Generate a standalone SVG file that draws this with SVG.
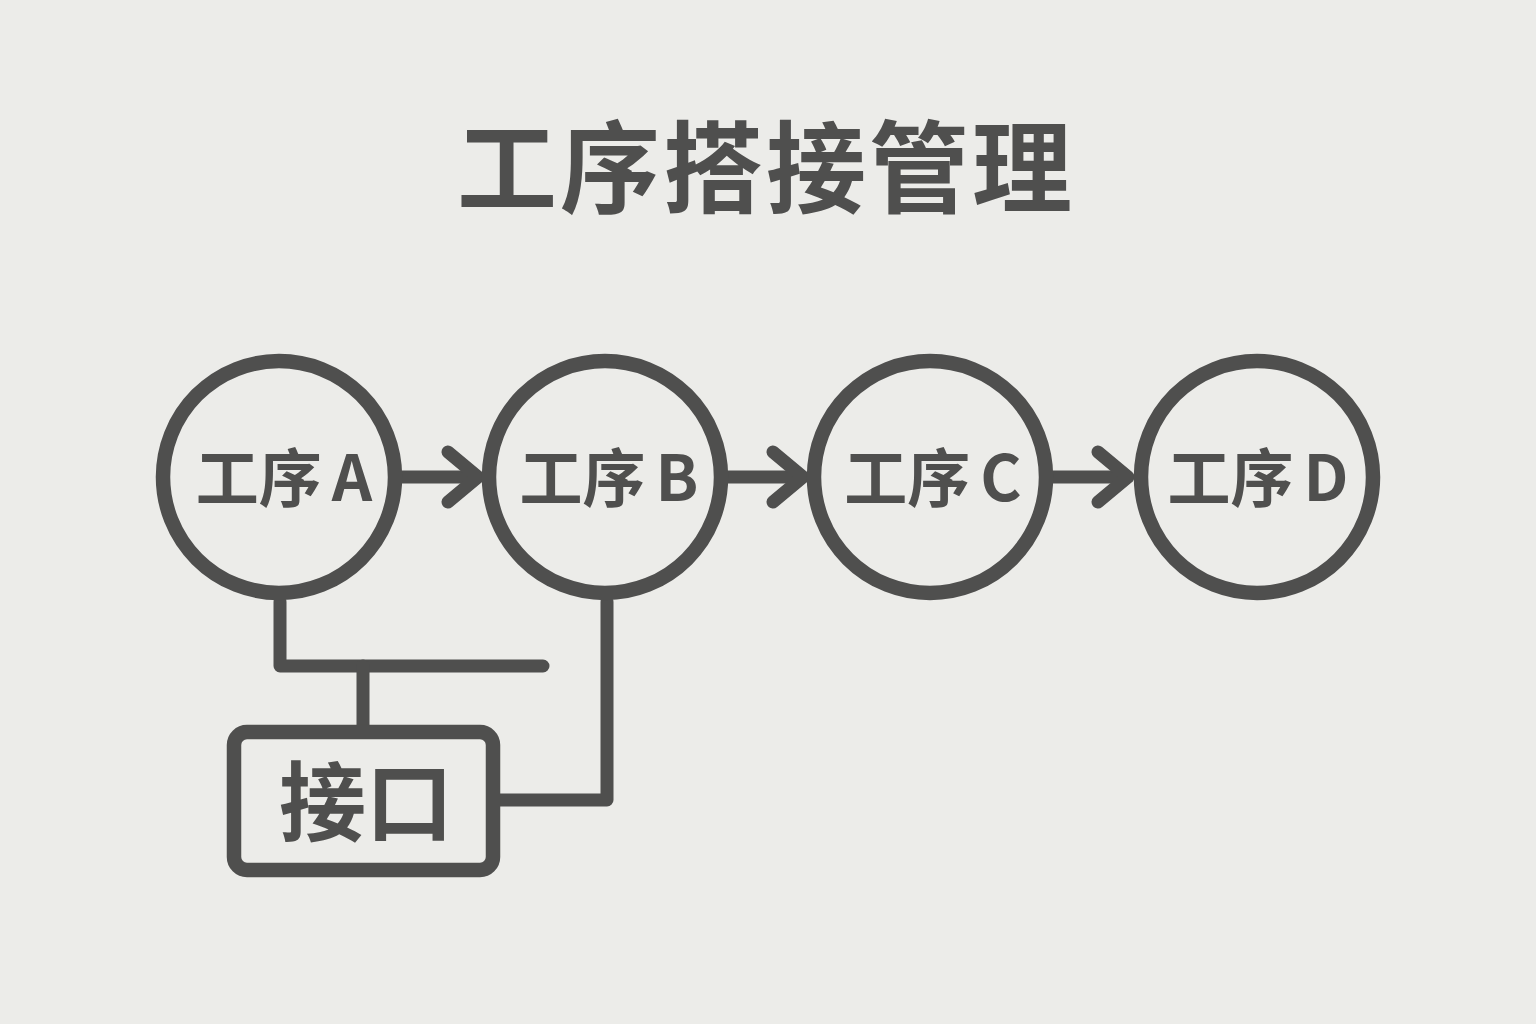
<svg xmlns="http://www.w3.org/2000/svg" width="1536" height="1024" viewBox="0 0 1536 1024">
<style>
.ln{fill:none;stroke:#4f4f4e;stroke-width:13;stroke-linecap:round;stroke-linejoin:round}
.ring{fill:none;stroke:#4f4f4e;stroke-width:14.5}
.lbl{font-family:"Noto Sans CJK SC","Noto Sans",sans-serif;font-weight:700;fill:#4f4f4e;text-anchor:middle}
</style>
<defs>
<path id="chev" d="M-30,-25 L0,0 L-30,25" class="ln"/>
</defs>
<rect width="1536" height="1024" fill="#ecece9"/>
<text class="lbl" x="766" y="205" font-size="100" letter-spacing="3">工序搭接管理</text>
<g id="connectors">
<line class="ln" x1="402" y1="477" x2="476" y2="477"/><use href="#chev" x="478" y="477"/>
<line class="ln" x1="727" y1="477" x2="801" y2="477"/><use href="#chev" x="803" y="477"/>
<line class="ln" x1="1053" y1="477" x2="1126" y2="477"/><use href="#chev" x="1128" y="477"/>
<path class="ln" d="M280,602 V666 H543"/>
<line class="ln" x1="363" y1="666" x2="363" y2="730"/>
<path class="ln" d="M607,602 V800 H500"/>
</g>
<g id="nodeA"><circle class="ring" cx="279" cy="477" r="116"/><text class="lbl" x="284" y="501" font-size="63">工序<tspan dx="10">A</tspan></text></g>
<g id="nodeB"><circle class="ring" cx="605" cy="477" r="116"/><text class="lbl" x="609" y="501" font-size="63">工序<tspan dx="10">B</tspan></text></g>
<g id="nodeC"><circle class="ring" cx="930" cy="477" r="116"/><text class="lbl" x="933" y="501" font-size="63">工序<tspan dx="10">C</tspan></text></g>
<g id="nodeD"><circle class="ring" cx="1257" cy="477" r="116"/><text class="lbl" x="1258" y="501" font-size="63">工序<tspan dx="10">D</tspan></text></g>
<g id="iface"><rect x="234" y="732" width="259" height="138" rx="13" class="ring"/><text class="lbl" x="366" y="835" font-size="87">接口</text></g>
</svg>
